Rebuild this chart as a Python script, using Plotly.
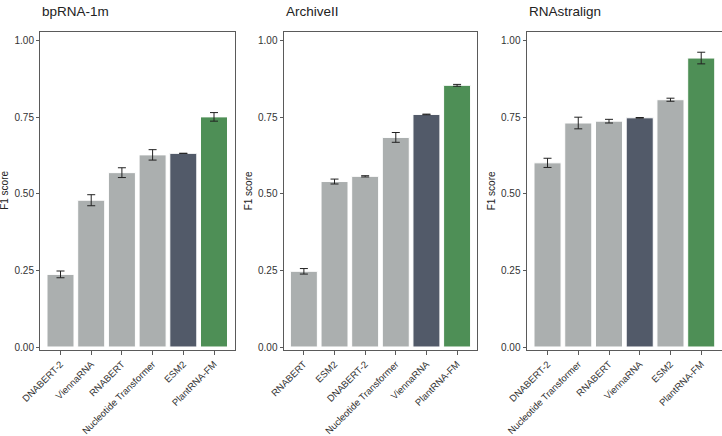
import plotly.graph_objects as go

W, H = 722, 436

titles = ["bpRNA-1m", "ArchiveII", "RNAstralign"]

cats_bprna = ["DNABERT-2", "ViennaRNA", "RNABERT", "Nucleotide Transformer", "ESM2", "PlantRNA-FM"]
vals_bprna = [0.237, 0.479, 0.569, 0.627, 0.632, 0.751]
errs_bprna = [0.011, 0.018, 0.016, 0.017, 0.0, 0.014]

cats_archive = ["RNABERT", "ESM2", "DNABERT-2", "Nucleotide Transformer", "ViennaRNA", "PlantRNA-FM"]
vals_archive = [0.247, 0.540, 0.557, 0.684, 0.759, 0.854]
errs_archive = [0.009, 0.008, 0.002, 0.016, 0.001, 0.003]

cats_rnastr = ["DNABERT-2", "Nucleotide Transformer", "RNABERT", "ViennaRNA", "ESM2", "PlantRNA-FM"]
vals_rnastr = [0.601, 0.731, 0.737, 0.748, 0.807, 0.943]
errs_rnastr = [0.015, 0.019, 0.006, 0.001, 0.005, 0.019]

y_ticks = [0.0, 0.25, 0.5, 0.75, 1.0]
y_ticklabels = ["0.00", "0.25", "0.50", "0.75", "1.00"]

GREY = "#ABAFAF"
DARK = "#525A69"
GREEN = "#4E8F56"

panels = [
    (cats_bprna, vals_bprna, errs_bprna, "ESM2"),
    (cats_archive, vals_archive, errs_archive, "ViennaRNA"),
    (cats_rnastr, vals_rnastr, errs_rnastr, "ViennaRNA"),
]

# pixel frames of each panel (left, right) in window coords
frames = [(40, 235), (283.5, 477), (526.5, 721.5)]
xranges = [[-0.668, 5.684], [-0.665, 5.65], [-0.684, 5.66]]
top_px, bot_px = 31.7, 350

FONT = "Liberation Sans, Arial"
fig = go.Figure()
LINE = "#5a5a5a"


def fx(px):
    return px / W


def fy(py):
    return (H - py) / H


for i, (cats, vals, errs, dark_cat) in enumerate(panels):
    n = "" if i == 0 else str(i + 1)
    colors = []
    for c in cats:
        if c == "PlantRNA-FM":
            colors.append(GREEN)
        elif c == dark_cat:
            colors.append(DARK)
        else:
            colors.append(GREY)
    fig.add_trace(go.Bar(
        x=cats, y=vals,
        marker=dict(color=colors, line=dict(color="white", width=1)),
        width=0.88,
        error_y=dict(type="data", array=errs, visible=True, color="#222222", thickness=1, width=4),
        xaxis="x" + n, yaxis="y" + n, showlegend=False, hoverinfo="skip",
    ))
    l, r = frames[i]
    fig.layout["xaxis" + n] = dict(
        domain=[fx(l), fx(r)], anchor="y" + n, automargin=False,
        type="category", range=xranges[i],
        showline=True, linecolor=LINE, linewidth=1, mirror=True,
        ticks="outside", ticklen=4, tickcolor=LINE, tickwidth=1,
        tickangle=-45, tickfont=dict(family=FONT, size=9.5, color="#333333"),
        showgrid=False, zeroline=False, fixedrange=True,
    )
    fig.layout["yaxis" + n] = dict(
        domain=[fy(bot_px), fy(top_px)], anchor="x" + n, automargin=False,
        range=[-0.0098, 1.029],
        tickvals=y_ticks, ticktext=y_ticklabels,
        showline=True, linecolor=LINE, linewidth=1, mirror=True,
        ticks="outside", ticklen=3, tickcolor=LINE, tickwidth=1,
        tickfont=dict(family=FONT, size=10, color="#333333"),
        showgrid=False, zeroline=False, fixedrange=True,
    )
    fig.add_annotation(
        text=titles[i], xref="paper", yref="paper",
        x=fx(l), y=fy(12), xanchor="left", yanchor="middle",
        showarrow=False, font=dict(family=FONT, size=13.5, color="#222222"),
    )
    fig.add_annotation(
        text="F1 score", xref="paper", yref="paper", textangle=-90,
        x=fx(l - 35), y=fy((top_px + bot_px) / 2), xanchor="center", yanchor="middle",
        showarrow=False, font=dict(family=FONT, size=10, color="#222222"),
    )

fig.update_layout(
    width=W, height=H,
    margin=dict(l=0, r=0, t=0, b=0),
    plot_bgcolor="white", paper_bgcolor="white",
    bargap=0.12,
)

fig.write_html(
    "out.html",
    config={"displayModeBar": False},
    post_script="document.body.style.margin='0px';document.body.style.padding='0px';",
)
